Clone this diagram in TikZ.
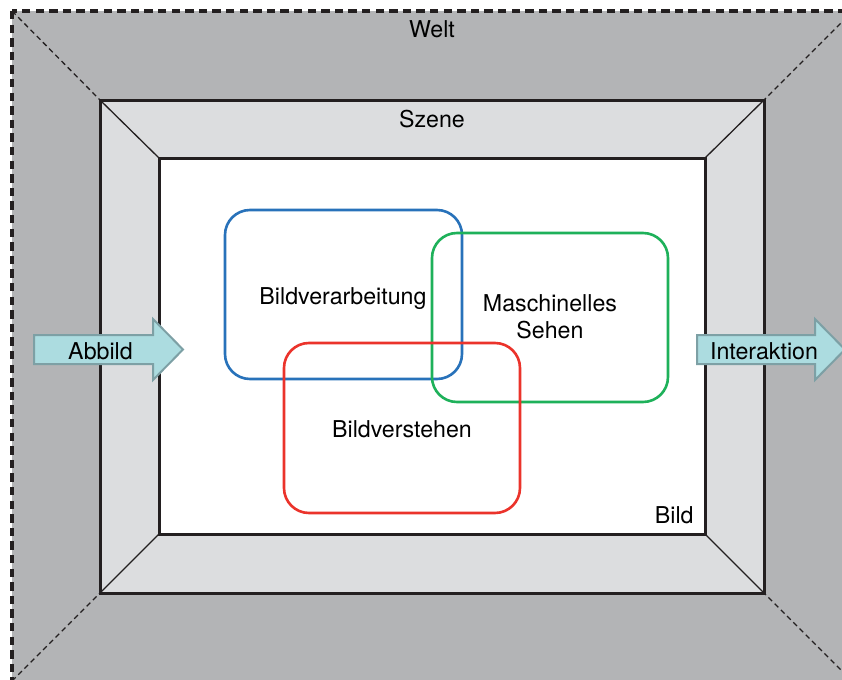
\documentclass[tikz,border=0pt]{standalone}
\usepackage{fontspec}
\setmainfont{TeX Gyre Heros}
\definecolor{weltgray}{RGB}{179,180,182}
\definecolor{szenegray}{RGB}{220,221,223}
\definecolor{framecol}{RGB}{35,31,32}
\definecolor{verarbblue}{RGB}{40,114,186}
\definecolor{sehengreen}{RGB}{30,177,90}
\definecolor{verstehred}{RGB}{235,51,43}
\definecolor{pfeilfill}{RGB}{172,220,224}
\definecolor{pfeilrim}{RGB}{125,160,165}
\begin{document}
\begin{tikzpicture}[x=0.5pt, y=-0.5pt, font=\fontsize{11.6}{13.5}\selectfont,
	frame/.style={draw=framecol, line width=1.5pt},
	diag/.style={draw=framecol, line width=0.65pt},
	field/.style={line width=1.3pt, rounded corners=12.5pt},
	pfeil/.style={draw=pfeilrim, fill=pfeilfill, line width=1pt},
	lbl/.style={inner sep=0pt, anchor=base}]
		\useasboundingbox (0,0) rectangle (842,680);
		\clip (0,0) rectangle (842,680);
		\coordinate (W1) at (12,11); \coordinate (W2) at (853,11); \coordinate (W3) at (853,682); \coordinate (W4) at (12,681);
		\coordinate (S1) at (100,100); \coordinate (S2) at (764,100); \coordinate (S3) at (764,593); \coordinate (S4) at (100,593);
		\coordinate (B1) at (159,158); \coordinate (B2) at (705,158); \coordinate (B3) at (705,534); \coordinate (B4) at (159,534);
	
		\fill[weltgray] (W1) rectangle (W3);
		\fill[szenegray] (S1) rectangle (S3);
		\fill[white] (B1) rectangle (B3);
		\draw[framecol, line width=1.6pt, dash pattern=on 4.2pt off 2.6pt] (W1) rectangle (W3);
		\draw[diag, dash pattern=on 2.6pt off 1.8pt] (W1) -- (S1) (W2) -- (S2) (W3) -- (S3) (W4) -- (S4);
		\draw[diag] (S1) -- (B1) (S2) -- (B2) (S3) -- (B3) (S4) -- (B4);
		\draw[frame] (S1) rectangle (S3);
		\draw[frame] (B1) rectangle (B3);
	
		\draw[field, verarbblue] (225,210) rectangle (462,379);
		\draw[field, sehengreen] (432,233) rectangle (668,402);
		\draw[field, verstehred] (284,343) rectangle (520,513);
	
		\draw[pfeil] (34,335) -- (153,335) -- (153,319) -- (183,349.5) -- (153,380) -- (153,364) -- (34,364) -- cycle;
		\draw[pfeil] (697,335) -- (815,335) -- (815,319) -- (845,349.5) -- (815,380) -- (815,364) -- (697,364) -- cycle;
	
		\node[lbl] (welt) at (432,38) {Welt};
		\node[lbl] (szene) at (432,127) {Szene};
		\node[lbl, anchor=base east] (bild) at (694,523) {Bild};
		\node[lbl] (verarb) at (343,304) {Bildverarbeitung};
		\node[inner sep=0pt, align=center] (sehen) at (550,317) {Maschinelles\\Sehen};
		\node[lbl] (verstehen) at (402,437) {Bildverstehen};
		\node[lbl] (abbild) at (100.5,359) {Abbild};
		\node[lbl] (interaktion) at (764,359) {Interaktion};
	\end{tikzpicture}
\end{document}
